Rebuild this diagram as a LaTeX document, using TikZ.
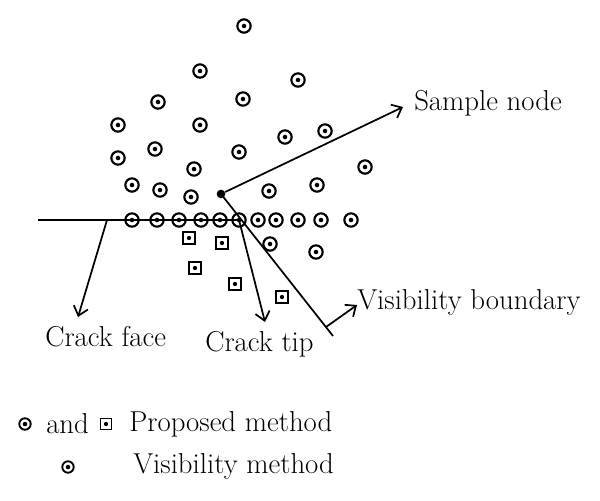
\documentclass[tikz,border=0pt]{standalone}
\usetikzlibrary{arrows.meta,calc}
\begin{document}
\begin{tikzpicture}[x=0.75pt,y=-0.75pt,
  pc/.style={circle,draw,line width=1.6pt,minimum size=10pt,inner sep=0pt,
    path picture={\fill (path picture bounding box.center) circle (1.7pt);}},
  pcs/.style={pc,minimum size=8.6pt,line width=1.4pt},
  ps/.style={rectangle,draw,line width=1.3pt,minimum size=9.4pt,inner sep=0pt,
    path picture={\fill (path picture bounding box.center) circle (1.6pt);}},
  pss/.style={ps,minimum size=8.4pt},
  ln/.style={line width=1.3pt},
  arr/.style={ln,-{Straight Barb[length=6.5pt,width=11pt,line width=1.3pt]}},
  lbl/.style={font=\fontsize{21.6}{25}\selectfont,inner sep=0pt}]
\useasboundingbox (0,0) rectangle (600,500);
% connectors first
\coordinate (cfL) at (38,220);
\coordinate (cf1) at (107,220);
\coordinate (cfE) at (78,317);
\coordinate (ctE) at (265,322);
\coordinate (snE) at (403,107);
\coordinate (vbE) at (333,336);
\coordinate (vbA) at (357,305);
\coordinate (ct) at (239,220);
\node[circle,fill,inner sep=0pt,minimum size=6.5pt] (sn) at (221,194) {};
\draw[ln] (cfL) -- (ct);
\draw[arr] (cf1) -- (cfE);
\draw[arr] (ct) -- (ctE);
\draw[arr] (sn) -- (snE);
\draw[ln] (sn.center) -- (vbE);
\coordinate (vbS) at ($(sn.center)!0.937!(vbE)$);
\draw[arr] (vbS) -- (vbA);
% circles
\foreach \x/\y [count=\i] in {244/26,200/71,298/80,158/102,243/99,118/125,200/125,285/137,325/131,118/158,155/149,239/152,365/167,194/169,132/185,160/190,191/197,269/191,317/185,
  132/220,157/220,179/220,201/220,220/220,258/220,276/220,298/220,321/220,351/220,270/244,316/252}
  \node[pc] (c\i) at (\x,\y) {};
\node[pc] (ctc) at (ct) {};
% squares
\foreach \x/\y [count=\i] in {189/238,222/243,195/268,235/284,282/297}
  \node[ps] (s\i) at (\x,\y) {};
% labels
\node[lbl,anchor=west] (tsn) at (414,103) {Sample node};
\node[lbl,anchor=west] (tvb) at (357,302) {Visibility boundary};
\node[lbl,anchor=west] (tcf) at (45,337) {Crack face};
\node[lbl,anchor=west] (tct) at (205,344) {Crack tip};
% legend
\node[pcs] (lc1) at (25,424) {};
\node[lbl,anchor=west] (tand) at (46,424) {and};
\node[pss] (ls1) at (106,424) {};
\node[lbl,anchor=west] (tpm) at (129,424) {Proposed method};
\node[pcs] (lc2) at (68,467) {};
\node[lbl,anchor=west] (tvm) at (133,466) {Visibility method};
\end{tikzpicture}
\end{document}
